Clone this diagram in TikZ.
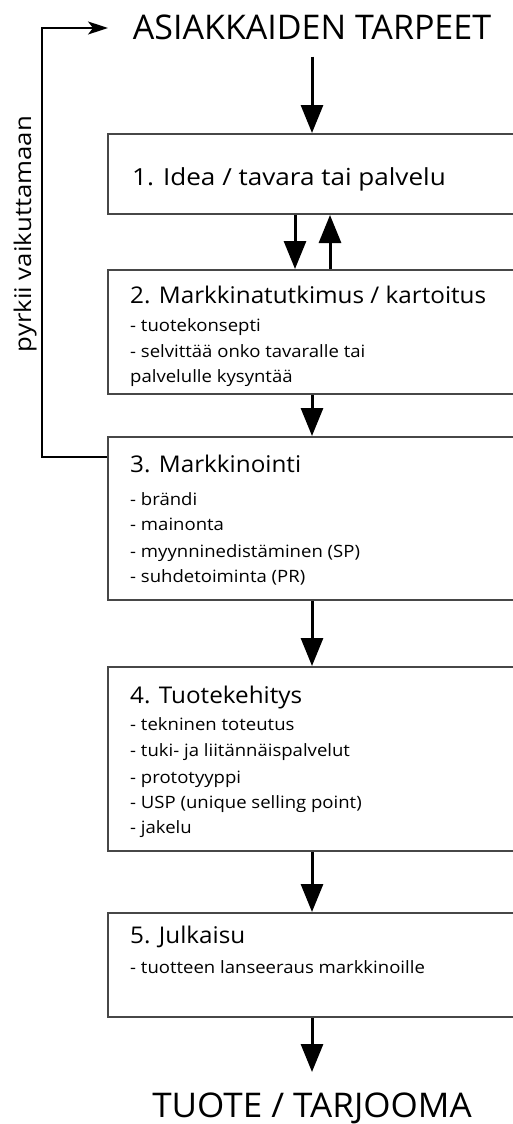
\documentclass[tikz,border=0pt]{standalone}
\usepackage{fontspec}
\setmainfont{Open Sans}
\usetikzlibrary{arrows.meta,calc}
\newcommand{\hstr}[2]{\scalebox{#1}[1]{#2}}
\begin{document}
\begin{tikzpicture}[x=1pt,y=-1pt,
  stepbox/.style={draw=black!72,line width=2pt,anchor=north west,minimum width=420pt,inner sep=0pt},
  arr/.style={line width=3pt,-{Triangle[width=22pt,length=28pt]}},
  fbline/.style={line width=1.6pt,-{Stealth[width=13pt,length=20pt,inset=5pt]}},
  bigtxt/.style={font=\fontsize{34}{40}\selectfont,inner sep=0pt},
  ttl/.style={font=\fontsize{23}{28}\selectfont,inner sep=0pt,anchor=base west},
  itm/.style={font=\fontsize{17}{20}\selectfont,inner sep=0pt,anchor=base west},
]
\useasboundingbox (0,0) rectangle (513,1124);
\coordinate (cx) at (312,0);
\coordinate (tipc) at (108,28);
\coordinate (endc) at (312,1072);

\node[bigtxt,anchor=base] (top) at (312,40) {ASIAKKAIDEN TARPEET};
\node[bigtxt,anchor=base] (bot) at (312,1117) {\hstr{1.03}{TUOTE / TARJOOMA}};

\node[stepbox,minimum height=80pt] (b1) at (107,133) {};
\node[stepbox,minimum height=124pt] (b2) at (107,269) {};
\node[stepbox,minimum height=163pt] (b3) at (107,436) {};
\node[stepbox,minimum height=184pt] (b4) at (107,666) {};
\node[stepbox,minimum height=104pt] (b5) at (107,912) {};

\node[ttl,font=\fontsize{23.5}{28}\selectfont] (t1) at (132,185) {\hstr{1.11}{1. Idea / tavara tai palvelu}};
\node[ttl] (t2) at (130,303) {\hstr{1.055}{2. Markkinatutkimus / kartoitus}};
\node[itm] (i21) at (130,331) {\hstr{1.09}{- tuotekonsepti}};
\node[itm] (i22) at (130,357) {\hstr{1.09}{- selvittää onko tavaralle tai}};
\node[itm] (i23) at (130,382) {\hstr{1.09}{palvelulle kysyntää}};

\node[ttl] (t3) at (130,472) {\hstr{1.055}{3. Markkinointi}};
\node[itm] (i31) at (130,505) {\hstr{1.09}{- brändi}};
\node[itm] (i32) at (130,530) {\hstr{1.09}{- mainonta}};
\node[itm] (i33) at (130,557) {\hstr{1.09}{- myynninedistäminen (SP)}};
\node[itm] (i34) at (130,582) {\hstr{1.09}{- suhdetoiminta (PR)}};

\node[ttl] (t4) at (130,703) {\hstr{1.055}{4. Tuotekehitys}};
\node[itm] (i41) at (130,730) {\hstr{1.09}{- tekninen toteutus}};
\node[itm] (i42) at (130,756) {\hstr{1.09}{- tuki- ja liitännäispalvelut}};
\node[itm] (i43) at (130,783) {\hstr{1.09}{- prototyyppi}};
\node[itm] (i44) at (130,808) {\hstr{1.09}{- USP (unique selling point)}};
\node[itm] (i45) at (130,833) {\hstr{1.09}{- jakelu}};

\node[ttl] (t5) at (130,943) {\hstr{1.055}{5. Julkaisu}};
\node[itm] (i51) at (130,973) {\hstr{1.09}{- tuotteen lanseeraus markkinoille}};

\node[font=\fontsize{23}{28}\selectfont,inner sep=0pt,rotate=90,anchor=base] (lab) at (31,234) {\hstr{1.12}{pyrkii vaikuttamaan}};

\draw[arr,shorten <=16pt] (cx |- top.south) -- (cx |- b1.north);
\draw[arr] ([xshift=-17pt]cx |- b1.south) -- ([xshift=-17pt]cx |- b2.north);
\draw[arr] ([xshift=18pt]cx |- b2.north) -- ([xshift=18pt]cx |- b1.south);
\draw[arr] (cx |- b2.south) -- (cx |- b3.north);
\draw[arr] (cx |- b3.south) -- (cx |- b4.north);
\draw[arr] (cx |- b4.south) -- (cx |- b5.north);
\draw[arr] (cx |- b5.south) -- (endc);
\draw[fbline] ([yshift=-21pt]b3.north west) -- ++(-65,0) |- (tipc);
\end{tikzpicture}
\end{document}
